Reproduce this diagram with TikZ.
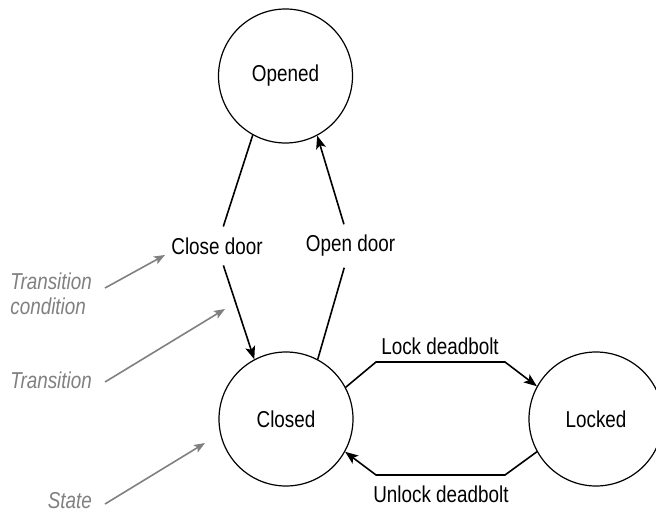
\documentclass[tikz,border=0pt]{standalone}
\usepackage{fontspec}
\setmainfont{Liberation Sans}[FakeStretch=0.82]
\usetikzlibrary{arrows.meta}
\definecolor{anngray}{RGB}{128,128,128}
\tikzset{
  state/.style={draw, circle, minimum size=134pt, inner sep=0pt, line width=1.2pt, font=\fontsize{23}{27}\selectfont},
  cond/.style={font=\fontsize{23}{27}\selectfont, inner sep=3pt, outer sep=8pt},
  trans/.style={line width=1.6pt, -{Stealth[length=13pt,width=10pt,inset=3pt]}},
  plain/.style={line width=1.6pt},
  ann/.style={font=\fontsize{23}{25}\selectfont\itshape, text=anngray, align=left, inner sep=0pt},
  annarrow/.style={draw=anngray, line width=1.6pt, -{Stealth[length=11pt,width=8.5pt,inset=2.5pt]}}
}
\begin{document}
\begin{tikzpicture}[x=1pt,y=-1pt]
\useasboundingbox (0,0) rectangle (656,513);
\node[state] (opened) at (285.5,76) {Opened};
\node[state] (closed) at (286,419) {Closed};
\node[state] (locked) at (596,419) {Locked};

\node[cond] (cd) at (217,246) {Close door};
\node[cond] (od) at (350.5,246) {Open door};
\node[cond, outer sep=0pt] (ld) at (440,346) {Lock deadbolt};
\node[cond, outer sep=0pt] (ud) at (441,494) {Unlock deadbolt};

\draw[plain] (opened.241) -- (cd);
\draw[trans] (cd) -- (closed.118);
\draw[plain] (closed.62) -- (od);
\draw[trans] (od) -- (opened.298);

\coordinate (l1) at (376,362);
\coordinate (l2) at (505,362);
\coordinate (u1) at (505,475);
\coordinate (u2) at (376,475);
\draw[trans] (closed.28) -- (l1) -- (l2) -- (locked.151);
\draw[trans] (locked.209) -- (u1) -- (u2) -- (closed.-29);

\node[ann, anchor=east] (tc) at (92,294) {Transition\\condition};
\node[ann, anchor=east] (tr) at (92,380) {Transition};
\node[ann, anchor=east] (st) at (92,501) {State};

\coordinate (a1) at (165,255);
\coordinate (a2) at (225,309);
\coordinate (a3) at (205,443);
\draw[annarrow] ([xshift=13pt,yshift=6pt]tc.east) -- (a1);
\draw[annarrow] ([xshift=13pt,yshift=-2pt]tr.east) -- (a2);
\draw[annarrow] ([xshift=13pt,yshift=-3pt]st.east) -- (a3);
\end{tikzpicture}
\end{document}
